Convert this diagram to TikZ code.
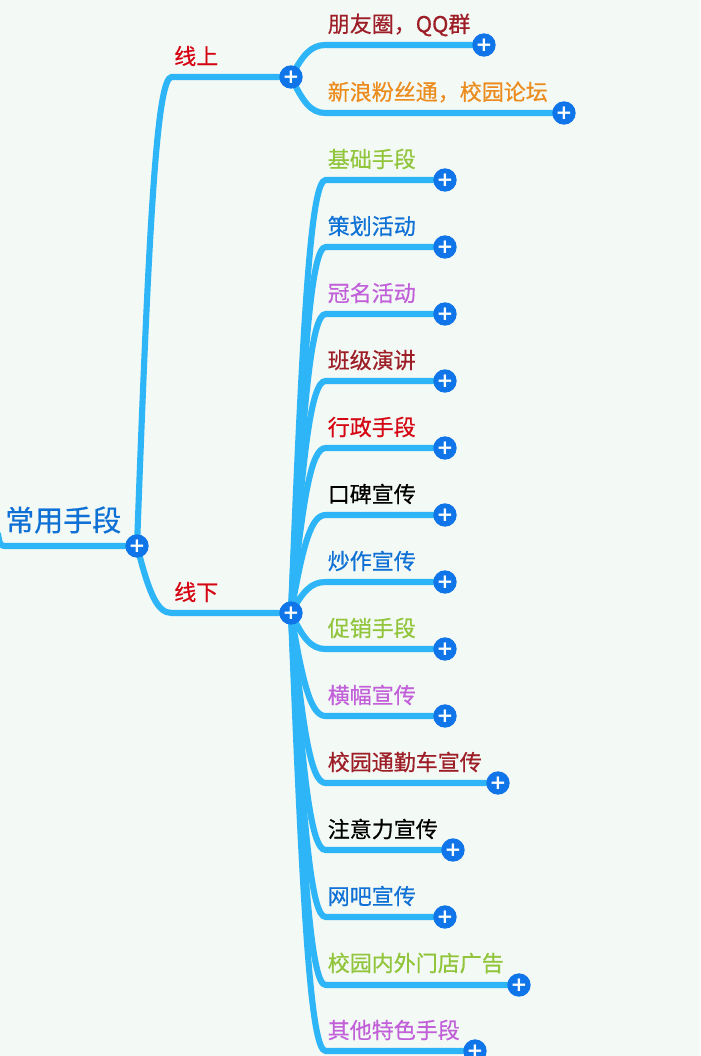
\documentclass[tikz,border=0pt]{standalone}
\usepackage{fontspec}
\usepackage{tikz}
\usetikzlibrary{calc,backgrounds}
\setmainfont[FakeBold=0.6]{Noto Sans CJK SC}
\newfontfamily\plusfont{DejaVu Sans}
\definecolor{pagegreen}{RGB}{243,249,244}
\definecolor{linkblue}{RGB}{45,181,247}
\definecolor{plusblue}{RGB}{15,117,232}
\definecolor{textblue}{RGB}{15,113,214}
\definecolor{textred}{RGB}{214,5,20}
\definecolor{textdark}{RGB}{158,30,40}
\definecolor{textorange}{RGB}{236,140,30}
\definecolor{textgreen}{RGB}{145,197,60}
\definecolor{textpurple}{RGB}{194,96,218}
\tikzset{
	x=0.75pt,y=-0.75pt,
	plus node/.style={circle,fill=plusblue,text=white,inner sep=0pt,minimum size=17.5pt,font=\plusfont\bfseries\fontsize{15}{15}\selectfont},
	item node/.style={anchor=west,inner sep=0pt,font=\fontsize{16.5}{18}\selectfont},
	link/.style={draw=linkblue,line width=4.6pt,line cap=round},
	branch/.style={link,to path={
		let \p1=(\tikztostart),\p2=(\tikztotarget) in
		(\p1) .. controls ({\x1+9pt},{\y1+0.7*(\y2-\y1)}) and ({\x1+15pt},\y2) .. ({\x1+26pt},\y2) -- (\p2)
	}}
}
\begin{document}
\begin{tikzpicture}
	\useasboundingbox (0,0) rectangle (700,1056);
	\clip (0,0) rectangle (700,1056);
	% centre and first level
	\node[inner sep=0pt,anchor=west,text=textblue,font=\fontsize{21.75}{24}\selectfont] (root) at (5,520) {常用手段};
	\coordinate (start) at (-2,534);
	\node[plus node] (P0) at (137,546) {+};
	\node[plus node] (up) at (291,77) {+};
	\node[plus node] (down) at (291,613) {+};
	\node[item node,text=textred] (upL) at (174,56) {线上};
	\node[item node,text=textred] (downL) at (174,592) {线下};
	% online items
	\node[plus node] (A1) at (484,45) {+};
	\node[plus node] (A2) at (564,113) {+};
	\node[item node,text=textdark] (A1L) at (327.5,25) {朋友圈，QQ群};
	\node[item node,text=textorange] (A2L) at (327.5,92) {新浪粉丝通，校园论坛};
	% offline items
	\node[plus node] (B1) at (445,180) {+};
	\node[plus node] (B2) at (445,247) {+};
	\node[plus node] (B3) at (445,314) {+};
	\node[plus node] (B4) at (445,381) {+};
	\node[plus node] (B5) at (445,448) {+};
	\node[plus node] (B6) at (445,515) {+};
	\node[plus node] (B7) at (445,582) {+};
	\node[plus node] (B8) at (445,649) {+};
	\node[plus node] (B9) at (445,716) {+};
	\node[plus node] (B10) at (498,783) {+};
	\node[plus node] (B11) at (453,850) {+};
	\node[plus node] (B12) at (445,917) {+};
	\node[plus node] (B13) at (519,985) {+};
	\node[plus node] (B14) at (475,1051) {+};
	\node[item node,text=textgreen] (B1L) at (327.5,159) {基础手段};
	\node[item node,text=textblue] (B2L) at (327.5,226) {策划活动};
	\node[item node,text=textpurple] (B3L) at (327.5,293) {冠名活动};
	\node[item node,text=textdark] (B4L) at (327.5,360) {班级演讲};
	\node[item node,text=textred] (B5L) at (327.5,427) {行政手段};
	\node[item node,text=black] (B6L) at (327.5,494) {口碑宣传};
	\node[item node,text=textblue] (B7L) at (327.5,561) {炒作宣传};
	\node[item node,text=textgreen] (B8L) at (327.5,628) {促销手段};
	\node[item node,text=textpurple] (B9L) at (327.5,695) {横幅宣传};
	\node[item node,text=textdark] (B10L) at (327.5,762) {校园通勤车宣传};
	\node[item node,text=black] (B11L) at (327.5,829) {注意力宣传};
	\node[item node,text=textblue] (B12L) at (327.5,896) {网吧宣传};
	\node[item node,text=textgreen] (B13L) at (327.5,963) {校园内外门店广告};
	\node[item node,text=textpurple] (B14L) at (327.5,1030) {其他特色手段};
	\begin{scope}[on background layer]
		\fill[pagegreen] (0,0) rectangle (700,1056);
		\draw[link] (start) .. controls (0,546) and (0,546) .. (8,546) -- (P0);
		\path (P0) edge[branch] (up);
		\path (P0) edge[branch] (down);
		\path (up) edge[branch] (A1);
		\path (up) edge[branch] (A2);
		\path (down) edge[branch] (B1);
		\path (down) edge[branch] (B2);
		\path (down) edge[branch] (B3);
		\path (down) edge[branch] (B4);
		\path (down) edge[branch] (B5);
		\path (down) edge[branch] (B6);
		\path (down) edge[branch] (B7);
		\path (down) edge[branch] (B8);
		\path (down) edge[branch] (B9);
		\path (down) edge[branch] (B10);
		\path (down) edge[branch] (B11);
		\path (down) edge[branch] (B12);
		\path (down) edge[branch] (B13);
		\path (down) edge[branch] (B14);
	\end{scope}
\end{tikzpicture}
\end{document}
